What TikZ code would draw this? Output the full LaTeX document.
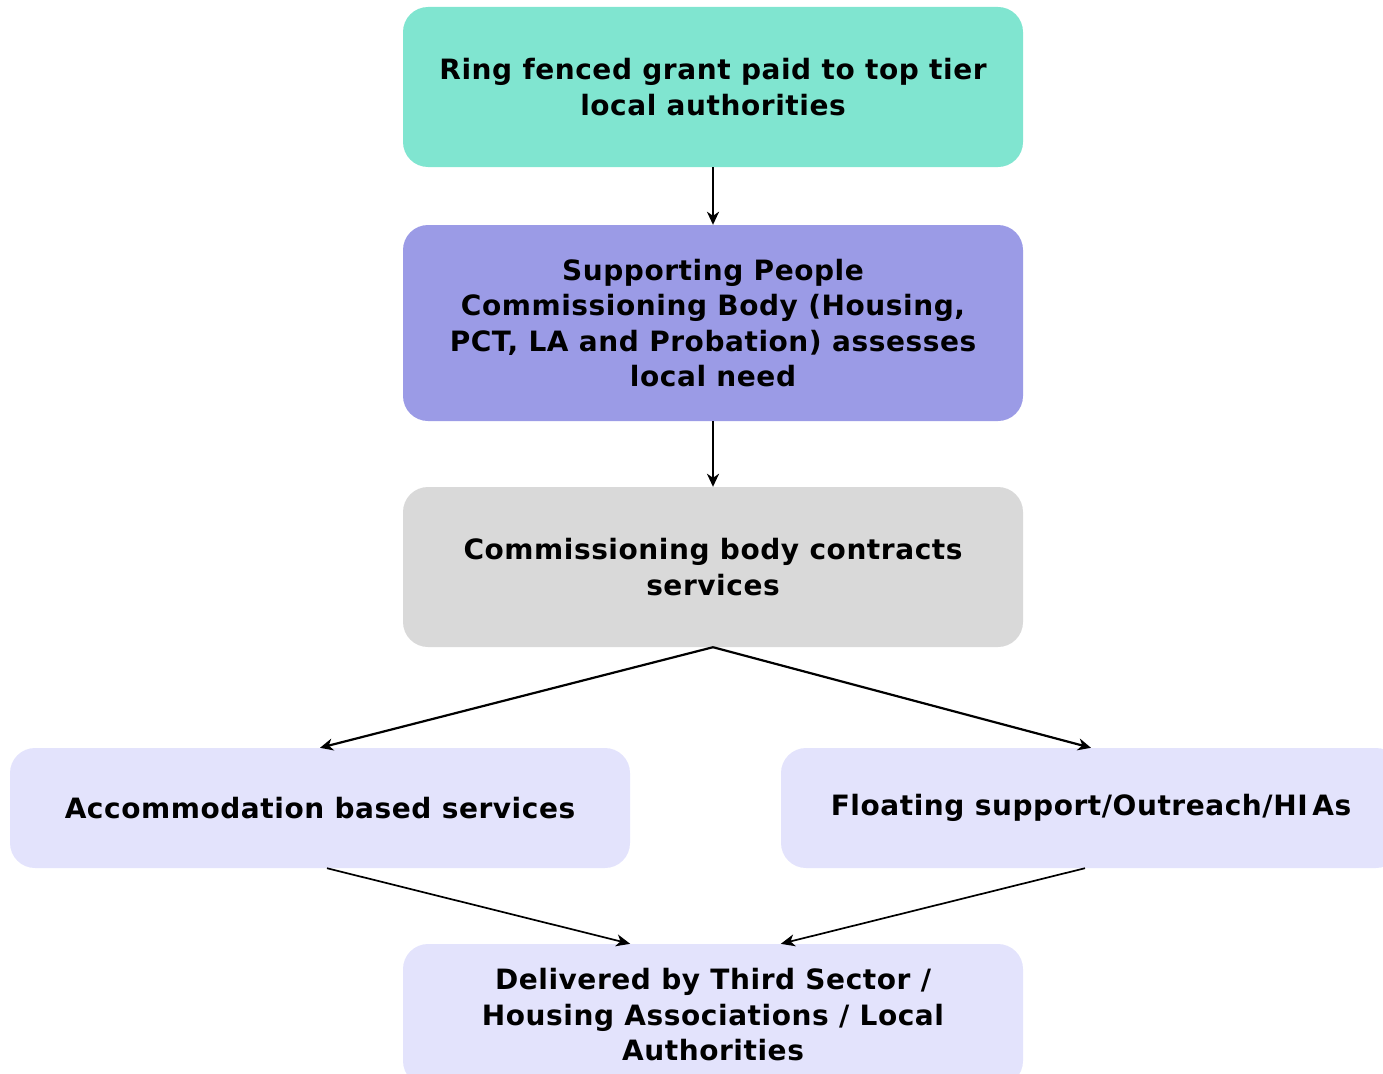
\documentclass[tikz,border=0pt]{standalone}
\usepackage{fontspec}
\setmainfont{DejaVu Sans}
\usetikzlibrary{arrows.meta,calc}
\definecolor{cteal}{HTML}{80E5D0}
\definecolor{cviolet}{HTML}{9B9BE6}
\definecolor{cgrey}{HTML}{D9D9D9}
\definecolor{clav}{HTML}{E3E3FC}
\tikzset{
  box/.style={rectangle, rounded corners=25pt, draw=none, minimum width=620pt, align=center,
    inner sep=0pt, font=\fontsize{28}{35.5}\selectfont\bfseries\addfontfeature{LetterSpace=2}, text=black},
  conn/.style={-{Stealth[length=13pt,width=12pt,inset=4pt]}, line width=2.2pt, black},
  connthin/.style={-{Stealth[length=14pt,width=12pt,inset=4pt]}, line width=1.7pt, black}
}
\begin{document}
\begin{tikzpicture}[x=1pt,y=-1pt]
\useasboundingbox (0,0) rectangle (1383,1073);
\clip (0,0) rectangle (1383,1073);
\node[box, fill=cteal, minimum height=160pt] (b1) at (713,87) {Ring fenced grant paid to top tier\\local authorities};
\node[box, fill=cviolet, minimum height=196pt] (b2) at (713,323) {Supporting People\\Commissioning Body (Housing,\\PCT, LA and Probation) assesses\\local need};
\node[box, fill=cgrey, minimum height=160pt] (b3) at (713,567) {Commissioning body contracts\\services};
\node[box, fill=clav, minimum height=120pt] (b4) at (320,808) {Accommodation based services};
\node[box, fill=clav, minimum height=120pt] (b5) at (1091,808) {Floating support/Outreach/HI\,As};
\node[box, fill=clav, minimum height=142pt] (b6) at (713,1015) {Delivered by Third Sector /\\Housing Associations / Local\\Authorities};
\draw[conn] (b1.south) -- (b2.north);
\draw[conn] (b2.south) -- (b3.north);
\draw[conn] (b3.south) -- (b4.north);
\draw[conn] (b3.south) -- (b5.north);
\coordinate (e4) at (b4.east |- b6.north);
\coordinate (e5) at (b5.west |- b6.north);
\draw[connthin] ($(b4.south)+(7,0)$) -- (e4);
\draw[connthin] ($(b5.south)+(-6,0)$) -- (e5);
\end{tikzpicture}
\end{document}
